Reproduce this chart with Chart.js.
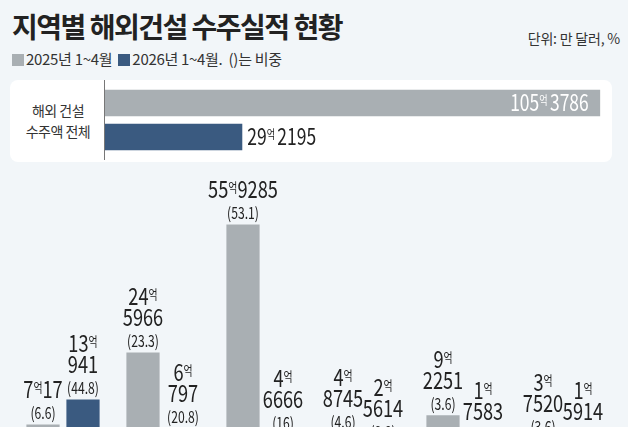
<!DOCTYPE html>
<html><head><meta charset="utf-8">
<script src="https://cdn.jsdelivr.net/npm/chart.js@4"></script>
<style>
body{margin:0;width:628px;height:427px;overflow:hidden;background:#f2f6f9;position:relative;font-family:'Noto Sans CJK KR',sans-serif;}
#title{position:absolute;left:12px;top:6px;font-size:28px;font-weight:700;color:#222;letter-spacing:-1.5px;}
#unit{position:absolute;right:8px;top:28px;font-size:14px;color:#333;letter-spacing:-0.2px;}
#legend{position:absolute;left:12px;top:48px;font-size:15px;color:#333;letter-spacing:-0.3px;}
#legend i{display:inline-block;width:12px;height:12px;margin-right:2px;vertical-align:-1px;}
#panel{position:absolute;left:10px;top:80px;width:602px;height:82px;background:#fff;border-radius:8px;}
#plabel{position:absolute;left:10px;top:100px;width:96px;text-align:center;font-size:14px;line-height:21px;color:#333;letter-spacing:-0.5px;}
#topWrap{position:absolute;left:0;top:78px;width:628px;height:82px;}
#botWrap{position:absolute;left:0;top:160px;width:628px;height:293px;}
</style></head><body>
<div id="title">지역별 해외건설 수주실적 현황</div>
<div id="unit">단위: 만 달러, %</div>
<div id="legend"><i style="background:#a9afb3"></i>2025년 1~4월 &nbsp;<i style="background:#3a5a80"></i>2026년 1~4월.&nbsp; ()는 비중</div>
<div id="panel"></div>
<div id="plabel">해외 건설<br>수주액 전체</div>
<div id="topWrap"><canvas id="topChart"></canvas></div>
<div id="botWrap"><canvas id="botChart"></canvas></div>
<script>
const GRAY = "#a9afb3", BLUE = "#3a5a80";
const FONT = "'Noto Sans CJK KR'";
const SQUEEZE = 0.76;

// totals (만 달러)
const totalYears = ["2025년 1~4월", "2026년 1~4월"];
const totalValues = [1053786, 292195];

// regions (labels cut off in the picture)
const regions = ["A", "B", "C", "D", "E", "F"];
const values2025 = [70017, 245966, 559285, 48745, 92251, 37520];
const values2026 = [130941, 60797, 46666, 25614, 17583, 15914];
const share2025 = ["6.6", "23.3", "53.1", "4.6", "3.6", "3.6"];
const share2026 = ["44.8", "20.8", "16", "8.8", "6", "5.4"];
const oneLine2025 = [true, false, true, false, false, false];

function split(v) { return [String(Math.floor(v / 10000)), String(v % 10000)]; }

// condensed text, centered at x
function narrow(ctx, str, x, y, size) {
    ctx.save();
    ctx.translate(x, y); ctx.scale(SQUEEZE, 1);
    ctx.textAlign = "center";
    ctx.font = size + "px " + FONT;
    ctx.fillText(str, 0, 0);
    ctx.restore();
}

// draws "NN억MMMM" with a small 억, centered at x (align: center/left)
function drawEok(ctx, parts, x, y, big, small, gap, align) {
    ctx.save();
    ctx.translate(x, y); ctx.scale(SQUEEZE, 1);
    ctx.textAlign = "left";
    ctx.font = big + "px " + FONT;
    const w1 = ctx.measureText(parts[0]).width;
    const w3 = parts[1] ? ctx.measureText(parts[1]).width : 0;
    ctx.font = small + "px " + FONT;
    const w2 = ctx.measureText("억").width;
    const total = w1 + w2 + w3 + (parts[1] ? gap : 0);
    let cx = align === "left" ? 0 : -total / 2;
    ctx.font = big + "px " + FONT;
    ctx.fillText(parts[0], cx, 0); cx += w1;
    ctx.font = small + "px " + FONT;
    ctx.fillText("억", cx, -big * 0.25); cx += w2 + gap;
    if (parts[1]) { ctx.font = big + "px " + FONT; ctx.fillText(parts[1], cx, 0); }
    ctx.restore();
}

new Chart(document.getElementById("topChart"), {
    type: "bar",
    data: {
        labels: totalYears,
        datasets: [{ data: totalValues, backgroundColor: [GRAY, BLUE], barPercentage: 0.78, categoryPercentage: 1 }]
    },
    options: {
        indexAxis: "y", responsive: true, maintainAspectRatio: false, animation: false,
        layout: { padding: { left: 105, right: 16, top: 8, bottom: 6 } },
        plugins: { legend: { display: false }, tooltip: { enabled: false } },
        scales: { x: { display: false, min: 0, max: 1079000 }, y: { display: false } }
    },
    plugins: [{
        afterDatasetsDraw(chart) {
            const ctx = chart.ctx, a = chart.chartArea;
            ctx.save();
            ctx.strokeStyle = "#777"; ctx.lineWidth = 1;
            ctx.beginPath(); ctx.moveTo(a.left - 0.5, 2); ctx.lineTo(a.left - 0.5, 82); ctx.stroke();
            chart.getDatasetMeta(0).data.forEach((bar, i) => {
                const p = split(totalValues[i]);
                if (i === 0) {
                    ctx.fillStyle = "#fff";
                    drawEok(ctx, p, bar.x - 90, bar.y + 8, 23, 12, 3, "left");
                } else {
                    ctx.fillStyle = "#222";
                    drawEok(ctx, p, bar.x + 5, bar.y + 8, 23, 12, 3, "left");
                }
            });
            ctx.restore();
        }
    }]
});

new Chart(document.getElementById("botChart"), {
    type: "bar",
    data: {
        labels: regions,
        datasets: [
            { data: values2025, backgroundColor: GRAY, barPercentage: 0.83, categoryPercentage: 0.8 },
            { data: values2026, backgroundColor: BLUE, barPercentage: 0.83, categoryPercentage: 0.8 }
        ]
    },
    options: {
        responsive: true, maintainAspectRatio: false, animation: false,
        layout: { padding: { left: 13, right: 15, top: 0, bottom: 0 } },
        plugins: { legend: { display: false }, tooltip: { enabled: false } },
        scales: { x: { display: false }, y: { display: false, min: 0, max: 717000 } }
    },
    plugins: [{
        afterDatasetsDraw(chart) {
            const ctx = chart.ctx;
            ctx.save();
            ctx.fillStyle = "#222";
            [0, 1].forEach(d => {
                const vals = d === 0 ? values2025 : values2026;
                const shares = d === 0 ? share2025 : share2026;
                chart.getDatasetMeta(d).data.forEach((bar, i) => {
                    const p = split(vals[i]);
                    const x = bar.x;
                    let y = bar.y - 5;
                    narrow(ctx, "(" + shares[i] + ")", x, y, 16);
                    y -= 21;
                    if (d === 0 && oneLine2025[i]) {
                        drawEok(ctx, p, x, y, 24, 13, 0);
                    } else {
                        narrow(ctx, p[1], x, y, 24);
                        y -= 21;
                        drawEok(ctx, [p[0], ""], x, y, 24, 13, 0);
                    }
                });
            });
            ctx.restore();
        }
    }]
});
</script>
</body></html>
